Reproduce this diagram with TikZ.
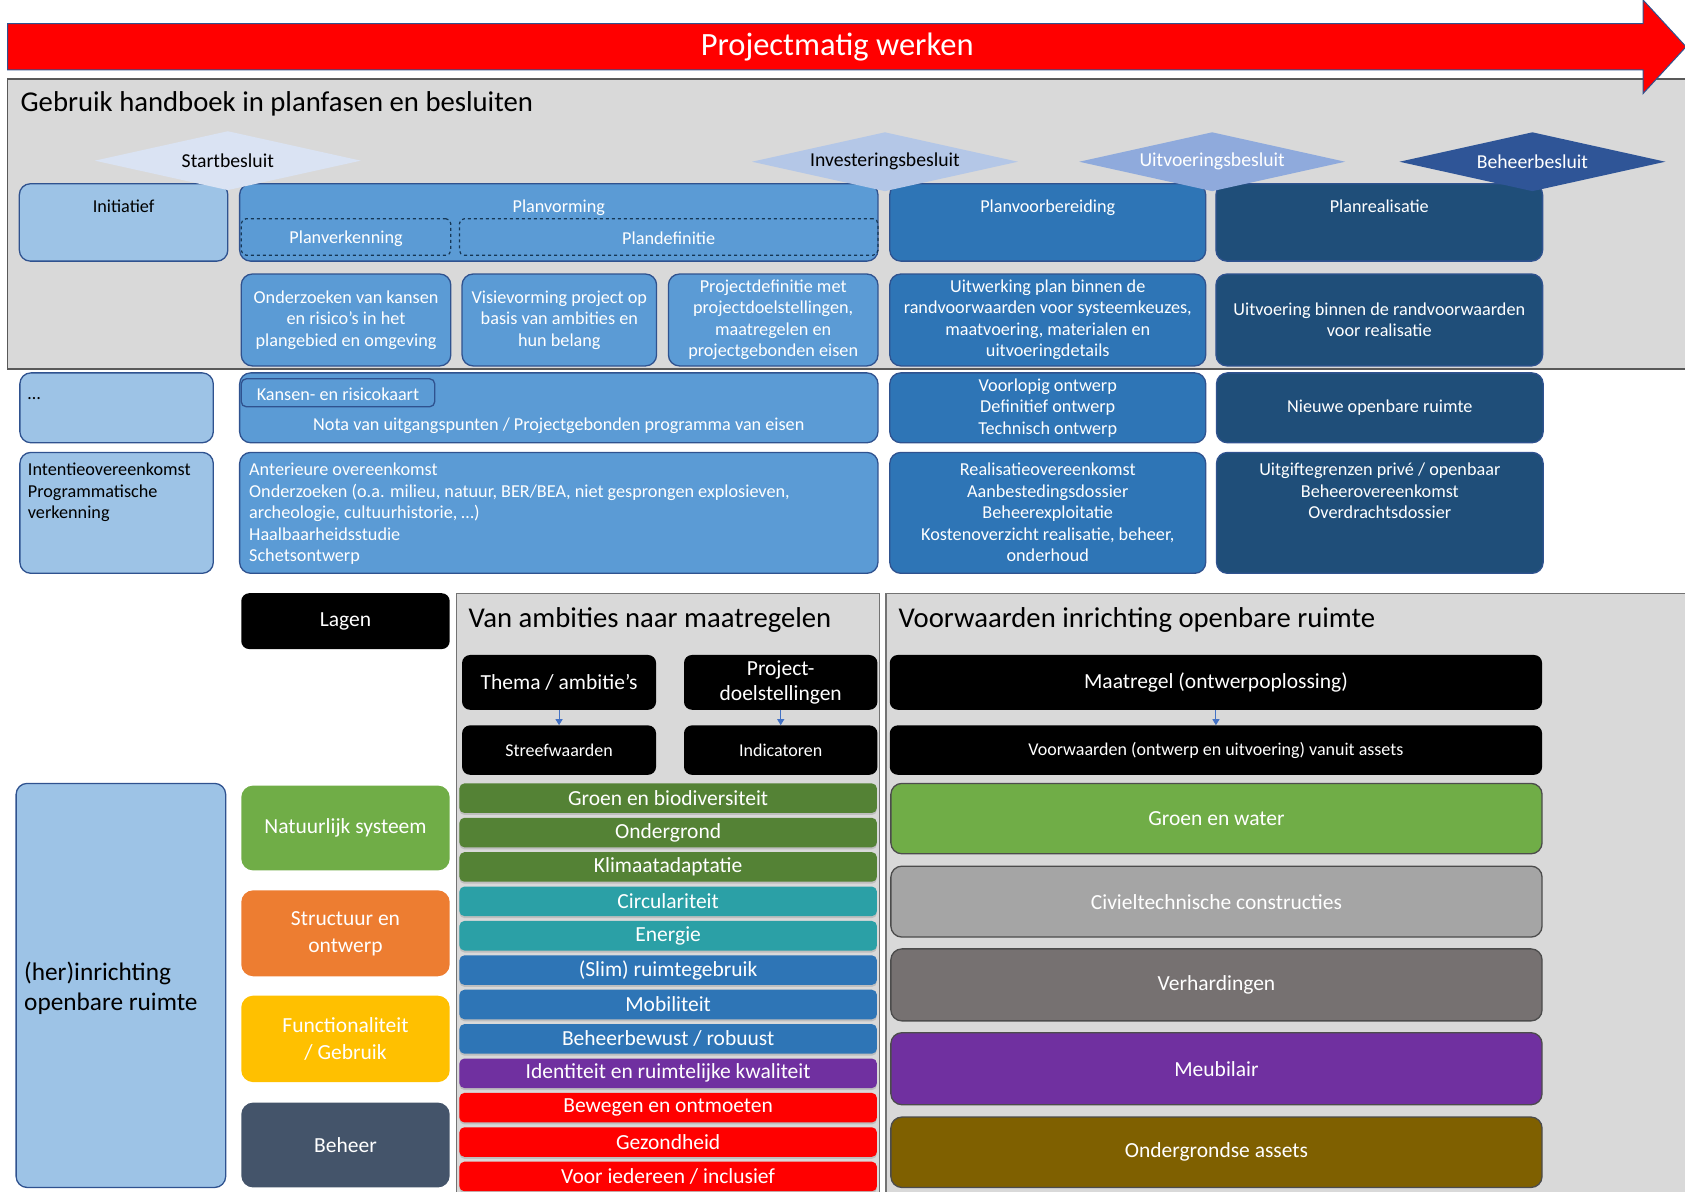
\documentclass[tikz,border=0pt]{standalone}
\usepackage{fontspec}
\setmainfont{Carlito}
\usetikzlibrary{fit,shapes.geometric,arrows.meta,shadows}

\definecolor{lblue}{HTML}{9DC3E6}
\definecolor{mblue}{HTML}{5B9BD5}
\definecolor{sblue}{HTML}{2E75B6}
\definecolor{dblue}{HTML}{1F4E79}
\definecolor{edge}{HTML}{2F528F}
\definecolor{panelgray}{HTML}{D9D9D9}
\definecolor{panelline}{HTML}{595959}
\definecolor{grass}{HTML}{548235}
\definecolor{tealbar}{HTML}{2BA0A6}
\definecolor{purp}{HTML}{7030A0}
\definecolor{lgreen}{HTML}{70AD47}
\definecolor{orng}{HTML}{ED7D31}
\definecolor{gold}{HTML}{FFC000}
\definecolor{slate}{HTML}{44546A}
\definecolor{civgray}{HTML}{A5A5A5}
\definecolor{pavgray}{HTML}{767171}
\definecolor{ochre}{HTML}{7F6000}
\definecolor{dstart}{HTML}{DAE3F3}
\definecolor{dinvest}{HTML}{B4C7E7}
\definecolor{duitv}{HTML}{8FAADC}
\definecolor{dbeheer}{HTML}{2F5597}
\definecolor{arrowblue}{HTML}{4472C4}

\newcommand{\bodyfont}{\fontsize{18.2}{21.5}\selectfont}
\newcommand{\besluitfont}{\fontsize{19.7}{22}\selectfont}
\newcommand{\barfont}{\fontsize{21.5}{27}\selectfont}
\newcommand{\smallfont}{\fontsize{18}{20}\selectfont}
\newcommand{\bigfont}{\fontsize{25.3}{30}\selectfont}
\newcommand{\headfont}{\fontsize{28.7}{32}\selectfont}

\tikzset{
    every label/.style={align=center, inner sep=0pt, text=white, font=\bodyfont},
    panel/.style={draw=panelline, fill=panelgray, line width=1.3pt, inner sep=0pt},
    paneltitle/.style={anchor=west, inner sep=0pt, font=\headfont},
    box/.style={draw=edge, line width=1.3pt, rounded corners=11pt, inner sep=0pt},
    dashbox/.style={draw=dblue!70!black, dashed, line width=1.2pt, rounded corners=5pt, inner sep=0pt},
    besluit/.style={diamond, minimum width=266pt, minimum height=59pt, inner sep=0pt},
    blackbox/.style={fill=black, rounded corners=8pt, inner sep=0pt},
    bar/.style={rounded corners=5pt, inner sep=0pt, drop shadow={shadow xshift=0pt, shadow yshift=-2pt, opacity=0.3}},
    layer/.style={rounded corners=12pt, inner sep=0pt},
    asset/.style={draw=black!70, line width=1.3pt, rounded corners=11pt, inner sep=0pt},
    flow/.style={-{Triangle[width=7pt,length=6pt]}, draw=arrowblue, line width=1pt},
}

\begin{document}
\begin{tikzpicture}[x=1.0746pt, y=-1.0746pt]
    \useasboundingbox (0,0) rectangle (1568,1109);

    \node[panel, fit={(7,73.5) (1580,343.5)}] (gebruik) {};
    \node[paneltitle] (tgebruik) at (19,97) {Gebruik handboek in planfasen en besluiten};

    \draw[fill=red, draw=edge, line width=1pt] (7,22) -- (1529,22) -- (1529,0) -- (1569,43.5) -- (1529,87) -- (1529,65) -- (7,65) -- cycle;
    \node[text=white, font=\fontsize{32.5}{36}\selectfont] (pmw) at (779,44) {Projectmatig werken};

    \node[box, fill=lblue, fit={(18,171) (212,243)}, label={[text=black, anchor=base, yshift=-29.5pt]north:{Initiatief}}] (init) {};
    \node[box, fill=mblue, fit={(223,171) (817,243)}, label={[anchor=base, yshift=-29.5pt]north:{Planvorming}}] (plvorm) {};
    \node[dashbox, fit={(224.5,203.5) (419.5,237.5)}, label={[yshift=-1.5pt]center:{Planverkenning}}] (plverk) {};
    \node[dashbox, fit={(427.5,203.5) (817,237.5)}, label={[yshift=-1.5pt]center:{Plandefinitie}}] (pldef) {};
    \node[box, fill=sblue, fit={(828,171) (1122,243)}, label={[anchor=base, yshift=-29.5pt]north:{Planvoorbereiding}}] (plvoorb) {};
    \node[box, fill=dblue, fit={(1131.5,171) (1435.5,243)}, label={[anchor=base, yshift=-29.5pt]north:{Planrealisatie}}] (plreal) {};

    \node[besluit, fill=dstart, label={[text=black, font=\besluitfont]center:{Startbesluit}}] (start) at (212,149.5) {};
    \node[besluit, fill=dinvest, label={[text=black, font=\besluitfont]center:{Investeringsbesluit}}] (invest) at (823.5,150.5) {};
    \node[besluit, fill=duitv, label={[font=\besluitfont]center:{Uitvoeringsbesluit}}] (uitv) at (1128,150.5) {};
    \node[besluit, fill=dbeheer, label={[font=\besluitfont]center:{Beheerbesluit}}] (beheer) at (1426,150.5) {};

    \node[box, fill=mblue, fit={(224.5,255) (419.5,340.5)}, label=center:{Onderzoeken van kansen\\en risico’s in het\\plangebied en omgeving}] (kansen) {};
    \node[box, fill=mblue, fit={(430,255) (611,340.5)}, label=center:{Visievorming project op\\basis van ambities en\\hun belang}] (visie) {};
    \node[box, fill=mblue, fit={(622,255) (817,340.5)}, label=center:{Projectdefinitie met\\projectdoelstellingen,\\maatregelen en\\projectgebonden eisen}] (projdef) {};
    \node[box, fill=sblue, fit={(828,255) (1122,340.5)}, label=center:{Uitwerking plan binnen de\\randvoorwaarden voor systeemkeuzes,\\maatvoering, materialen en\\uitvoeringdetails}] (uitwerk) {};
    \node[box, fill=dblue, fit={(1131.5,255) (1435.5,340.5)}, label=center:{Uitvoering binnen de randvoorwaarden\\voor realisatie}] (uitvoer) {};

    \node[box, fill=lblue, fit={(18.5,347) (198.5,412)}, label={[text=black, anchor=base west, xshift=8.5pt, yshift=-27pt]north west:{…}}] (overig) {};
    \node[box, fill=mblue, fit={(223,347) (817,412)}, label={[yshift=-17.5pt]center:{Nota van uitgangspunten / Projectgebonden programma van eisen}}] (nota) {};
    \node[box, fill=mblue, rounded corners=5pt, fit={(224.5,352.5) (404.5,378.5)}, label={[yshift=-1pt]center:{Kansen- en risicokaart}}] (kaart) {};
    \node[box, fill=sblue, fit={(828,347) (1122,412)}, label=center:{Voorlopig ontwerp\\Definitief ontwerp\\Technisch ontwerp}] (ontwerp) {};
    \node[box, fill=dblue, fit={(1132,347) (1436,412)}, label=center:{Nieuwe openbare ruimte}] (nieuw) {};

    \node[box, fill=lblue, fit={(18.5,421) (198.5,533.5)}, label={[text=black, align=left, anchor=north west, xshift=8.5pt, yshift=-11pt]north west:{Intentieovereenkomst\\Programmatische\\verkenning}}] (intentie) {};
    \node[box, fill=mblue, fit={(223,421) (817,533.5)}, label={[align=left, anchor=north west, xshift=10pt, yshift=-11pt]north west:{Anterieure overeenkomst\\Onderzoeken (o.a. milieu, natuur, BER/BEA, niet gesprongen explosieven,\\archeologie, cultuurhistorie, …)\\Haalbaarheidsstudie\\Schetsontwerp}}] (anterieur) {};
    \node[box, fill=sblue, fit={(828,421) (1122,533.5)}, label={[anchor=north, yshift=-11pt]north:{Realisatieovereenkomst\\Aanbestedingsdossier\\Beheerexploitatie\\Kostenoverzicht realisatie, beheer,\\onderhoud}}] (realis) {};
    \node[box, fill=dblue, fit={(1132,421) (1436,533.5)}, label={[anchor=north, yshift=-11pt]north:{Uitgiftegrenzen privé / openbaar\\Beheerovereenkomst\\Overdrachtsdossier}}] (uitgifte) {};

    \node[panel, draw=black!55, fit={(424.5,552) (818.5,1115)}] (ambpanel) {};
    \node[panel, draw=black!55, fit={(824.5,552) (1580,1115)}] (vwpanel) {};
    \node[paneltitle] (tamb) at (436,576.5) {Van ambities naar maatregelen};
    \node[paneltitle] (tvw) at (836,576.5) {Voorwaarden inrichting openbare ruimte};

    \node[blackbox, fit={(224.5,552) (418.5,604)}, label={[font=\barfont]center:{Lagen}}] (lagen) {};
    \node[blackbox, fit={(430,609.5) (610.5,660.5)}, label={[font=\barfont]center:{Thema / ambitie’s}}] (thema) {};
    \node[blackbox, fit={(636.5,609.5) (816.5,660.5)}, label={[font=\fontsize{21.5}{25}\selectfont]center:{Project-\\doelstellingen}}] (doel) {};
    \node[blackbox, fit={(430,675) (610.5,721)}, label={[font=\smallfont]center:{Streefwaarden}}] (streef) {};
    \node[blackbox, fit={(636.5,675) (816.5,721)}, label={[font=\smallfont]center:{Indicatoren}}] (indic) {};
    \node[blackbox, fit={(828,609.5) (1435,660.5)}, label={[font=\barfont]center:{Maatregel (ontwerpoplossing)}}] (maatr) {};
    \node[blackbox, fit={(828,675) (1435,721)}, label={[font=\smallfont]center:{Voorwaarden (ontwerp en uitvoering) vanuit assets}}] (voorw) {};

    \draw[flow] (thema) -- (streef);
    \draw[flow] (doel) -- (indic);
    \draw[flow] (maatr) -- (voorw);

    \node[bar, fill=grass, fit={(427.5,729) (816,756.5)}, label={[font=\barfont]center:{Groen en biodiversiteit}}] (groen) {};
    \node[bar, fill=grass, fit={(427.5,761) (816,788.5)}, label={[font=\barfont]center:{Ondergrond}}] (ondergrond) {};
    \node[bar, fill=grass, fit={(427.5,793) (816,820.5)}, label={[font=\barfont]center:{Klimaatadaptatie}}] (klimaat) {};
    \node[bar, fill=tealbar, fit={(427.5,825) (816,852.5)}, label={[font=\barfont]center:{Circulariteit}}] (circ) {};
    \node[bar, fill=tealbar, fit={(427.5,857) (816,884.5)}, label={[font=\barfont]center:{Energie}}] (energie) {};
    \node[bar, fill=sblue, fit={(427.5,889) (816,916.5)}, label={[font=\barfont]center:{(Slim) ruimtegebruik}}] (ruimte) {};
    \node[bar, fill=sblue, fit={(427.5,921) (816,948.5)}, label={[font=\barfont]center:{Mobiliteit}}] (mobiel) {};
    \node[bar, fill=sblue, fit={(427.5,953) (816,980.5)}, label={[font=\barfont]center:{Beheerbewust / robuust}}] (robuust) {};
    \node[bar, fill=purp, fit={(427.5,985) (816,1012.5)}, label={[font=\barfont]center:{Identiteit en ruimtelijke kwaliteit}}] (identiteit) {};
    \node[bar, fill=red, fit={(427.5,1017) (816,1044.5)}, label={[font=\barfont]center:{Bewegen en ontmoeten}}] (bewegen) {};
    \node[bar, fill=red, fit={(427.5,1049) (816,1076.5)}, label={[font=\barfont]center:{Gezondheid}}] (gezond) {};
    \node[bar, fill=red, fit={(427.5,1081) (816,1108.5)}, label={[font=\barfont]center:{Voor iedereen / inclusief}}] (iedereen) {};

    \node[box, fill=lblue, fit={(15,729) (210,1105)}, label={[text=black, align=left, anchor=west, xshift=8.5pt, yshift=-3pt, font=\bigfont]west:{(her)inrichting\\openbare ruimte}}] (herinr) {};
    \node[layer, fill=lgreen, fit={(224.5,731) (418.5,810)}, label={[font=\barfont]center:{Natuurlijk systeem}}] (natuur) {};
    \node[layer, fill=orng, fit={(224.5,828.5) (418.5,908.5)}, label={[font=\barfont]center:{Structuur en\\ontwerp}}] (structuur) {};
    \node[layer, fill=gold, fit={(224.5,926.5) (418.5,1007)}, label={[font=\barfont]center:{Functionaliteit\\/ Gebruik}}] (functie) {};
    \node[layer, fill=slate, fit={(224.5,1026) (418.5,1105)}, label={[font=\barfont]center:{Beheer}}] (lbeheer) {};

    \node[asset, fill=lgreen, fit={(829,729) (1435,794.5)}, label={[font=\barfont]center:{Groen en water}}] (water) {};
    \node[asset, fill=civgray, fit={(829,806) (1435,872)}, label={[font=\barfont]center:{Civieltechnische constructies}}] (civiel) {};
    \node[asset, fill=pavgray, fit={(829,883) (1435,950)}, label={[font=\barfont]center:{Verhardingen}}] (verhard) {};
    \node[asset, fill=purp, fit={(829,961) (1435,1028)}, label={[font=\barfont]center:{Meubilair}}] (meubel) {};
    \node[asset, fill=ochre, fit={(829,1039.5) (1435,1105)}, label={[font=\barfont]center:{Ondergrondse assets}}] (assets) {};
\end{tikzpicture}
\end{document}
